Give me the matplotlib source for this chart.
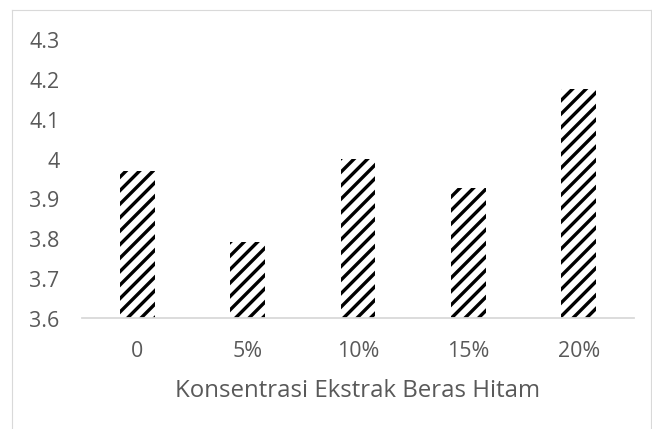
import matplotlib
matplotlib.use("Agg")
import matplotlib.pyplot as plt
from matplotlib.lines import Line2D

categories = ["0", "5%", "10%", "15%", "20%"]
values = [3.97, 3.79, 4.00, 3.925, 4.175]
yticks = [3.6, 3.7, 3.8, 3.9, 4.0, 4.1, 4.2, 4.3]
ytick_labels = ["3.6", "3.7", "3.8", "3.9", "4", "4.1", "4.2", "4.3"]
xlabel = "Konsentrasi Ekstrak Beras Hitam"

DPI = 81
W, H = 652, 430
plt.rcParams['font.family'] = ['Open Sans', 'DejaVu Sans']
plt.rcParams['hatch.linewidth'] = 3.0

fig = plt.figure(figsize=(W / DPI, H / DPI), dpi=DPI)
ax = fig.add_axes([82 / W, (H - 319) / H, (634 - 82) / W, (319 - 40) / H])

x = list(range(len(categories)))
ax.bar(x, [v - 3.6 for v in values], bottom=3.6, width=0.317,
       color='white', edgecolor='black', linewidth=0, hatch='//')

ax.set_xlim(-0.5, 4.5)
ax.set_ylim(3.6, 4.3)
ax.set_yticks(yticks)
ax.set_yticklabels(ytick_labels)
ax.set_xticks(x)
ax.set_xticklabels(categories)

gray = '#595959'
ax.tick_params(axis='both', length=0, colors=gray, labelsize=19)
ax.tick_params(axis='y', pad=20)
ax.tick_params(axis='x', pad=20)
for s in ['top', 'right', 'left']:
    ax.spines[s].set_visible(False)
ax.spines['bottom'].set_color('#d9d9d9')
ax.spines['bottom'].set_linewidth(1.6)

ax.set_xlabel(xlabel, color=gray, fontsize=21.3, labelpad=15)

# chart border
fig.add_artist(Line2D([11.5 / W, 11.5 / W], [0, (H - 10.5) / H], color='#d9d9d9',
                      lw=1.0, transform=fig.transFigure))
fig.add_artist(Line2D([11.5 / W, 650.5 / W], [(H - 10.5) / H, (H - 10.5) / H],
                      color='#d9d9d9', lw=1.0, transform=fig.transFigure))
fig.add_artist(Line2D([650.5 / W, 650.5 / W], [0, (H - 10.5) / H], color='#d9d9d9',
                      lw=1.0, transform=fig.transFigure))

fig.savefig("out.png", dpi=DPI)
